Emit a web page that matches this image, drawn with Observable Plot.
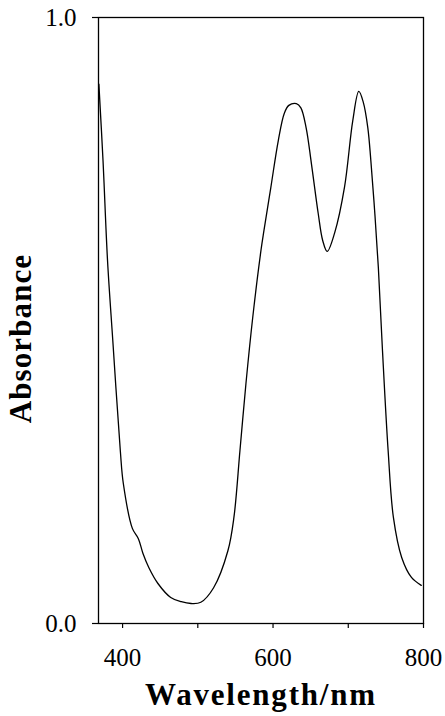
<!DOCTYPE html>
<html>
<head>
<meta charset="utf-8">
<script src="https://cdn.jsdelivr.net/npm/d3@7"></script>
<script src="https://cdn.jsdelivr.net/npm/@observablehq/plot@0.6"></script>
<style>
  html, body { margin: 0; padding: 0; background: #fff; }
  svg text { font-family: 'Liberation Serif', 'Times New Roman', serif !important; }
</style>
</head>
<body>
<div id="chart"></div>
<script>
const wavelength = [368.5, 374, 380, 387, 397, 401, 413, 421, 427, 435, 447, 464, 478, 491, 504, 521, 540, 548, 556, 564, 573, 584, 588, 597, 607, 615, 621, 631, 637, 644, 651, 660, 666, 672, 682, 695, 706, 714, 720, 726, 730, 735, 740, 745.5, 753, 760, 771, 784, 797];
const absorbance = [0.89, 0.764, 0.599, 0.467, 0.285, 0.231, 0.157, 0.140, 0.116, 0.092, 0.066, 0.043, 0.036, 0.033, 0.035, 0.059, 0.120, 0.175, 0.285, 0.396, 0.505, 0.616, 0.649, 0.719, 0.797, 0.842, 0.855, 0.858, 0.851, 0.818, 0.759, 0.677, 0.632, 0.614, 0.645, 0.720, 0.830, 0.878, 0.860, 0.818, 0.764, 0.682, 0.587, 0.450, 0.285, 0.175, 0.109, 0.076, 0.063];
const xTicks = [400, 500, 600, 700, 800];
const xTickLabels = [400, 600, 800];
const yTicks = [0, 1];
const xTitle = "Wavelength/nm";
const yTitle = "Absorbance";

const data = wavelength.map((w, i) => ({w, a: absorbance[i]}));
const serif = "'Liberation Serif', 'Times New Roman', serif";

const chart = Plot.plot({
  width: 445,
  height: 716,
  marginLeft: 98,
  marginRight: 22,
  marginTop: 17,
  marginBottom: 93,
  style: {fontFamily: serif, background: "#fff", color: "#000"},
  x: {domain: [368, 800], label: null},
  y: {domain: [0, 1], label: null},
  marks: [
    Plot.frame({stroke: "#000", strokeWidth: 1.3}),
    Plot.axisX(xTicks, {tickSize: 5, tickFormat: () => "", stroke: "#000", strokeWidth: 1.2}),
    Plot.axisX(xTickLabels, {tickSize: 0, tickPadding: 25, fontSize: 25, fontFamily: serif, tickFormat: d => String(d), fill: "#000"}),
    Plot.axisY(yTicks, {tickSize: 6, tickPadding: 16, fontSize: 25, fontFamily: serif, tickFormat: d => d.toFixed(1), fill: "#000", stroke: "#000", strokeWidth: 1.2}),
    Plot.line(data, {x: "w", y: "a", curve: "catmull-rom", stroke: "#000", strokeWidth: 1.3}),
    Plot.text([xTitle], {frameAnchor: "bottom", textAnchor: "middle", lineAnchor: "middle", dy: 72, fontSize: 31, fontWeight: "bold", fontFamily: serif, fill: "#000"}),
    Plot.text([yTitle], {frameAnchor: "left", textAnchor: "middle", lineAnchor: "middle", dx: -77, dy: 18, rotate: -90, fontSize: 31, fontWeight: "bold", fontFamily: serif, fill: "#000"})
  ]
});
d3.select(chart).selectAll("text").each(function() {
  const t = this.textContent;
  if (t === xTitle) this.setAttribute("letter-spacing", "1.8");
  if (t === yTitle) this.setAttribute("letter-spacing", "1.1");
});
document.getElementById("chart").append(chart);
</script>
</body>
</html>
